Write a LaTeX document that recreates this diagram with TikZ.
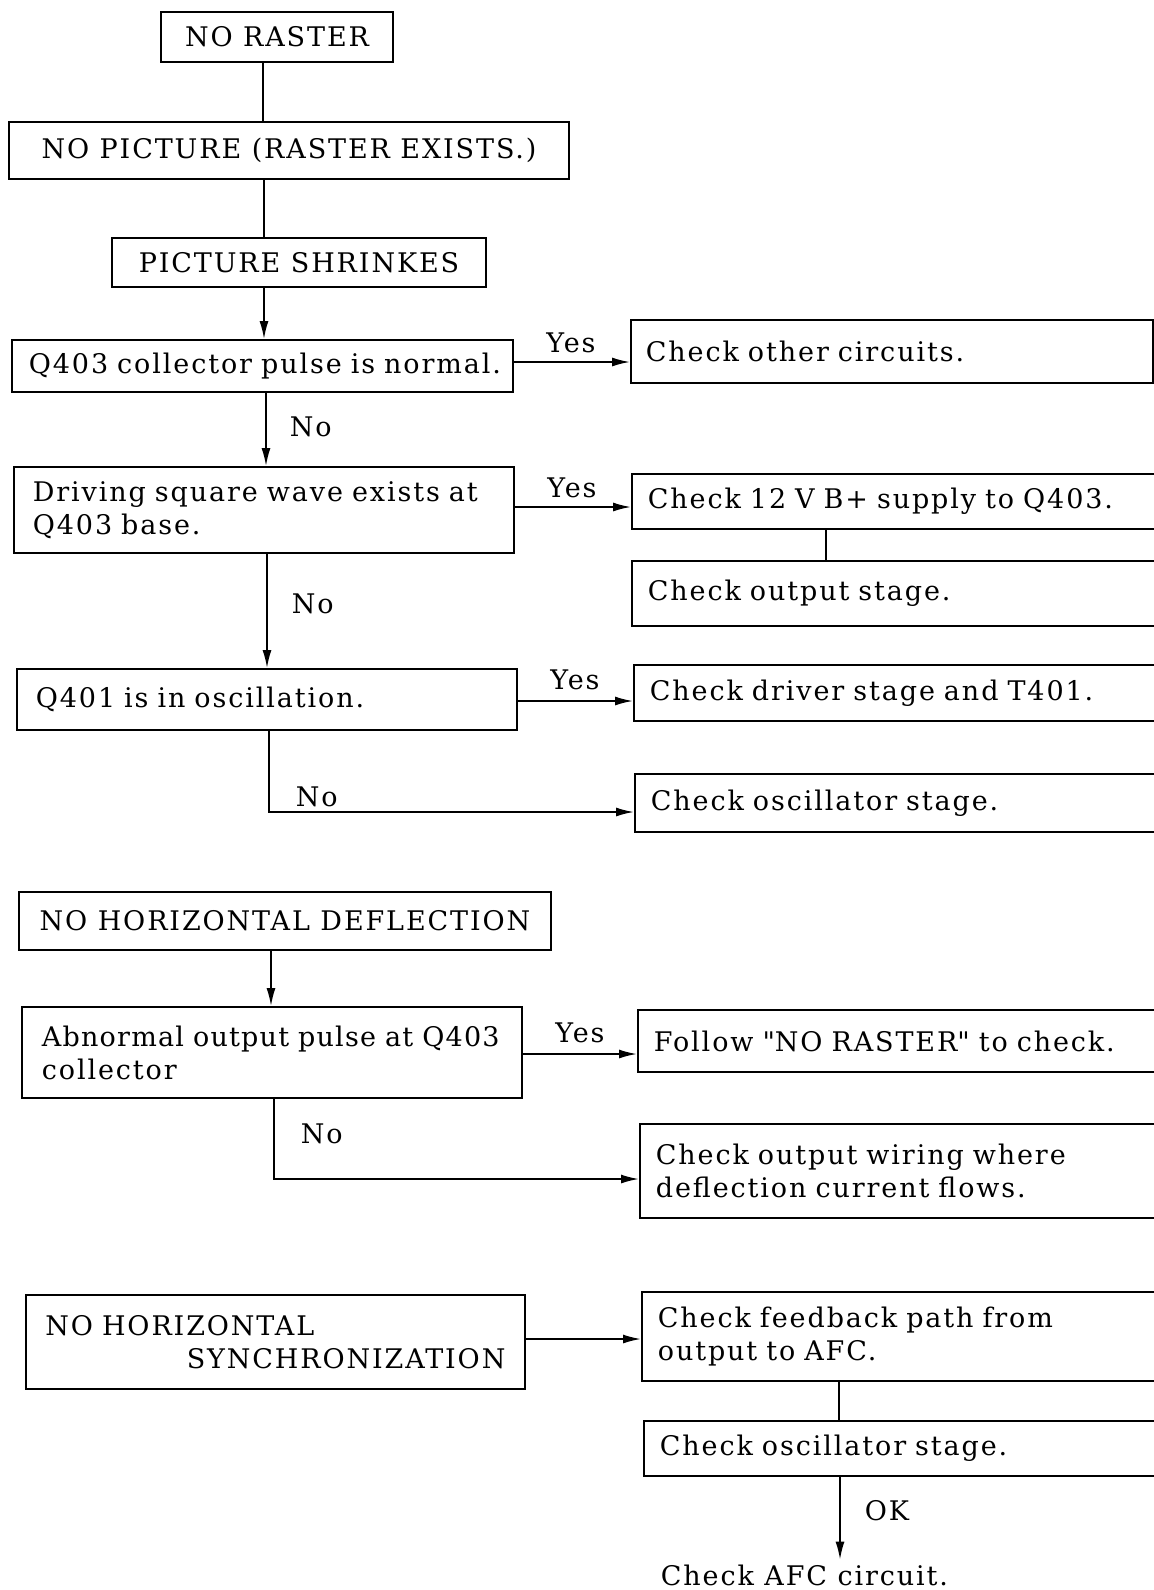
\documentclass[tikz,border=0pt]{standalone}
\usepackage{fontspec}
\setmainfont{DejaVu Serif}[LetterSpace=7]
\usetikzlibrary{arrows.meta}

\begin{document}
\begin{tikzpicture}[x=0.5pt,y=-0.5pt,line width=0.9pt,
    every node/.style={font=\fontsize{13.5}{16.5}\selectfont},
    cbox/.style={draw,inner sep=0pt,align=center},
    lbox/.style={draw,anchor=west,inner ysep=0pt,inner xsep=9.5pt,text width=231pt,align=left},
    rbox/.style={draw,anchor=west,inner ysep=0pt,inner xsep=8pt,text width=256pt,align=left},
    lbl/.style={inner sep=0pt},
    arr/.style={-{Latex[length=9pt,width=4.5pt]}}]
    \useasboundingbox (0,0) rectangle (1154,1590);
    \clip (0,0) rectangle (1154,1590);

    \node[cbox,minimum width=116pt,minimum height=25pt] (noraster) at (277,37) {NO RASTER};
    \node[cbox,minimum width=280pt,minimum height=28.5pt] (nopicture) at (289,150.5) {NO PICTURE (RASTER EXISTS.)};
    \node[cbox,minimum width=187pt,minimum height=24.5pt] (shrinks) at (299,262.5) {PICTURE SHRINKES};
    \node[lbox,inner xsep=8.5pt,text width=233.5pt,minimum height=26pt] (collpulse) at (11,366) {\mbox{Q403 collector pulse is normal.}};
    \node[lbox,minimum height=43pt] (drvwave) at (13,510) {\mbox{Driving square wave exists at}\\Q403 base.};
    \node[lbox,minimum height=30.5pt] (oscq) at (16,699.5) {Q401 is in oscillation.};

    \node[rbox,inner xsep=7.5pt,text width=246pt,minimum height=31.5pt] (other) at (630,351.5) {Check other circuits.};
    \node[rbox,minimum height=27.5pt] (supply) at (631,501.5) {Check 12 V B+ supply to Q403.};
    \node[rbox,minimum height=32.5pt] (outstage) at (631,593.5) {Check output stage.};
    \node[rbox,minimum height=28pt] (driver) at (633,693) {Check driver stage and T401.};
    \node[rbox,minimum height=29pt] (oscstage) at (634,803) {Check oscillator stage.};

    \node[cbox,minimum width=266pt,minimum height=29pt] (nodefl) at (285,921) {NO HORIZONTAL DEFLECTION};
    \node[lbox,inner xsep=10pt,text width=230pt,minimum height=45.5pt] (abnormal) at (21,1052.5) {\mbox{\addfontfeature{LetterSpace=4.5}Abnormal output pulse at Q403}\\collector};
    \node[rbox,minimum height=31pt] (follow) at (637,1041) {Follow {\addfontfeature{Ligatures=TeXOff}"}NO RASTER{\addfontfeature{Ligatures=TeXOff}"} to check.};
    \node[rbox,minimum height=47pt] (wiring) at (639,1171) {Check output wiring where\\deflection current flows.};

    \node[lbox,inner xsep=9.75pt,text width=230pt,minimum height=47pt] (nosync) at (25,1342) {NO HORIZONTAL\\\hspace*{\fill}SYNCHRONIZATION};
    \node[rbox,minimum height=44.5pt] (feedback) at (641,1336.5) {Check feedback path from\\output to AFC.};
    \node[rbox,minimum height=27.5pt] (oscstage2) at (643,1448.5) {Check oscillator stage.};
    \node[anchor=west,inner sep=2pt] (afc) at (656,1575) {Check AFC circuit.};

    \node[lbl] (yes1) at (571,343) {Yes};
    \node[lbl] (yes2) at (572,488) {Yes};
    \node[lbl] (yes3) at (575,680) {Yes};
    \node[lbl] (yes4) at (580,1033) {Yes};
    \node[lbl,anchor=west] (no1) at (289,427) {No};
    \node[lbl,anchor=west] (no2) at (291,604) {No};
    \node[lbl,anchor=west] (no3) at (295,797) {No};
    \node[lbl,anchor=west] (no4) at (300,1134) {No};
    \node[lbl,anchor=west] (ok) at (864,1511) {OK};

    \draw ([xshift=-7pt]noraster.south) -- ([xshift=-7pt]noraster.south |- nopicture.north);
    \draw ([xshift=-12.5pt]nopicture.south) -- ([xshift=-12.5pt]nopicture.south |- shrinks.north);
    \draw[arr] ([xshift=-17.5pt]shrinks.south) -- ([xshift=-17.5pt]shrinks.south |- collpulse.north);
    \draw[arr] ([yshift=2pt]collpulse.east) -- ([yshift=2pt]collpulse.east -| other.west);
    \draw[arr] ([xshift=127.5pt]collpulse.south west) -- ([xshift=127.5pt]collpulse.south west |- drvwave.north);
    \draw[arr] ([yshift=1.5pt]drvwave.east) -- ([yshift=1.5pt]drvwave.east -| supply.west);
    \draw ([xshift=97.5pt]supply.south west) -- ([xshift=97.5pt]outstage.north west);
    \draw[arr] ([xshift=127pt]drvwave.south west) -- ([xshift=127pt]drvwave.south west |- oscq.north);
    \draw[arr] ([yshift=-0.75pt]oscq.east) -- ([yshift=-0.75pt]oscq.east -| driver.west);
    \draw[arr] ([xshift=126.5pt]oscq.south west) |- ([yshift=-4.5pt]oscstage.west);

    \draw[arr] ([xshift=-7pt]nodefl.south) -- ([xshift=-7pt]nodefl.south |- abnormal.north);
    \draw[arr] ([yshift=-0.75pt]abnormal.east) -- ([yshift=-0.75pt]abnormal.east -| follow.west);
    \draw[arr] ([xshift=126.5pt]abnormal.south west) |- ([yshift=-4pt]wiring.west);

    \draw[arr] ([yshift=1.5pt]nosync.east) -- ([yshift=1.5pt]nosync.east -| feedback.west);
    \draw ([xshift=99pt]feedback.south west) -- ([xshift=99pt]feedback.south west |- oscstage2.north);
    \draw[arr] ([xshift=98.5pt]oscstage2.south west) -- ([xshift=98.5pt]oscstage2.south west |- afc.north);
\end{tikzpicture}
\end{document}
